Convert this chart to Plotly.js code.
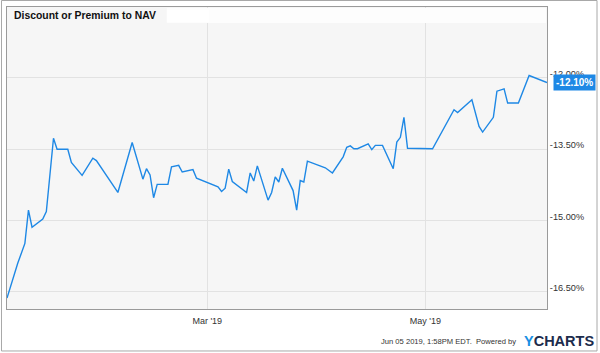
<!DOCTYPE html>
<html>
<head>
<meta charset="utf-8">
<script src="https://cdn.plot.ly/plotly-3.0.1.min.js"></script>
<style>html,body{margin:0;padding:0;background:#fff;}#chart{width:600px;height:353px;}</style>
</head>
<body>
<div id="chart"></div>
<script>
const dates = [
 '2019-01-04','2019-01-07','2019-01-09','2019-01-10','2019-01-11','2019-01-14','2019-01-15','2019-01-17','2019-01-18','2019-01-21',
 '2019-01-22','2019-01-25','2019-01-28','2019-01-29','2019-02-04','2019-02-08','2019-02-11','2019-02-12','2019-02-13','2019-02-14',
 '2019-02-15','2019-02-18','2019-02-19','2019-02-21','2019-02-22','2019-02-25','2019-02-26','2019-03-04','2019-03-05','2019-03-06',
 '2019-03-07','2019-03-08','2019-03-12','2019-03-13','2019-03-14','2019-03-15','2019-03-18','2019-03-19','2019-03-20','2019-03-21',
 '2019-03-22','2019-03-25','2019-03-26','2019-03-27','2019-03-28','2019-03-29','2019-04-03','2019-04-05','2019-04-08','2019-04-09',
 '2019-04-10','2019-04-11','2019-04-12','2019-04-15','2019-04-16','2019-04-17','2019-04-19','2019-04-22','2019-04-23','2019-04-24',
 '2019-04-25','2019-04-26','2019-05-03','2019-05-09','2019-05-10','2019-05-14','2019-05-16','2019-05-17','2019-05-20','2019-05-21',
 '2019-05-23','2019-05-24','2019-05-27','2019-05-30','2019-06-04'
];
const discountPct = [
 -16.63,-15.90,-15.48,-14.78,-15.14,-14.97,-14.81,-13.27,-13.50,-13.50,
 -13.78,-14.05,-13.69,-13.74,-14.41,-13.36,-14.13,-13.91,-14.04,-14.52,
 -14.24,-14.24,-13.87,-13.84,-13.98,-13.93,-14.11,-14.29,-14.39,-14.32,
 -13.92,-14.18,-14.41,-14.00,-14.17,-13.85,-14.57,-14.41,-14.08,-14.19,
 -13.90,-14.37,-14.78,-14.16,-14.19,-13.75,-13.89,-14.00,-13.66,-13.46,
 -13.43,-13.49,-13.49,-13.39,-13.51,-13.42,-13.42,-13.91,-13.35,-13.25,
 -12.83,-13.48,-13.49,-12.67,-12.73,-12.46,-13.02,-13.14,-12.83,-12.28,
 -12.23,-12.53,-12.53,-11.95,-12.10
];
const yTickVals = [-16.5, -15.0, -13.5, -12.0];
const yTickText = ['-16.50%', '-15.00%', '-13.50%', '-12.00%'];
const xTickVals = ['2019-03-01', '2019-05-01'];
const xTickText = ["Mar '19", "May '19"];
const seriesName = 'Discount or Premium to NAV';
const footerText = 'Jun 05 2019, 1:58PM EDT.\u00a0 Powered by';

const blue = '#1e88e5';
const lastX = dates[dates.length - 1];
const lastY = discountPct[discountPct.length - 1];

const trace = {
  x: dates, y: discountPct, type: 'scatter', mode: 'lines',
  line: {color: blue, width: 1.4}, name: seriesName, hoverinfo: 'skip'
};

const layout = {
  width: 600, height: 353,
  margin: {l: 7, r: 53, t: 7, b: 44},
  paper_bgcolor: '#ffffff', plot_bgcolor: '#f6f6f6',
  showlegend: false,
  font: {family: 'Arial, "Liberation Sans", sans-serif', color: '#333', size: 9},
  xaxis: {
    type: 'date', range: [dates[0], lastX],
    tickvals: xTickVals, ticktext: xTickText,
    showgrid: true, gridcolor: '#e2e2e2', gridwidth: 1,
    zeroline: false, showline: true, linecolor: '#9a9a9a', linewidth: 1, mirror: true,
    ticks: '', tickfont: {size: 9, color: '#333'}, ticklabelstandoff: 3
  },
  yaxis: {
    side: 'right', range: [-16.86, -10.51],
    tickvals: yTickVals, ticktext: yTickText,
    showgrid: true, gridcolor: '#e2e2e2', gridwidth: 1,
    zeroline: false, showline: true, linecolor: '#9a9a9a', linewidth: 1, mirror: true,
    ticks: '', tickfont: {size: 9.2, color: '#333'}, ticklabelposition: 'outside', ticklabelshift: -4
  },
  shapes: [
    {type: 'rect', xref: 'paper', yref: 'paper', x0: 0.296, x1: 0.998, y0: 0.947, y1: 0.997,
     fillcolor: '#fdfdfd', line: {width: 0}, layer: 'above'},
    {type: 'rect', xref: 'paper', yref: 'paper', x0: 0.296, x1: 0.374, y0: 0.950, y1: 0.990,
     fillcolor: '#ffffff', line: {width: 0}, layer: 'above'},
    {type: 'rect', xref: 'paper', yref: 'paper', x0: -0.0102, x1: 1.0926, y0: -0.139, y1: 1.0215,
     fillcolor: 'rgba(0,0,0,0)', line: {width: 1, color: '#a8a8a8'}, layer: 'above'},
    {type: 'path', xref: 'x', yref: 'y', xsizemode: 'pixel', ysizemode: 'pixel',
     xanchor: lastX, yanchor: lastY, path: 'M 0 0 L 7 7 L 7 -7 Z',
     fillcolor: blue, line: {width: 0}, layer: 'above'}
  ],
  annotations: [
    {xref: 'paper', yref: 'paper', x: 0.0093, y: 0.972, xanchor: 'left', yanchor: 'middle',
     text: '<b>' + seriesName + '</b>', showarrow: false,
     font: {size: 10.4, color: '#111', family: 'Arial, "Liberation Sans", sans-serif'}},
    {xref: 'x', yref: 'y', x: lastX, y: lastY, xanchor: 'left', yanchor: 'middle', xshift: 6,
     text: '<b>' + lastY.toFixed(2) + '%</b>', showarrow: false, bgcolor: blue, borderpad: 2,
     font: {size: 10, color: '#ffffff', family: 'Arial, "Liberation Sans", sans-serif'}},
    {xref: 'paper', yref: 'paper', x: 0.946, y: -0.109, xanchor: 'right', yanchor: 'middle',
     text: footerText, showarrow: false,
     font: {size: 7.6, color: '#333', family: 'Arial, "Liberation Sans", sans-serif'}},
    {xref: 'paper', yref: 'paper', x: 0.9537, y: -0.106, xanchor: 'left', yanchor: 'middle',
     text: '<b><span style="color:#1a8fe3">Y</span><span style="color:#1c2c4c">CHARTS</span></b>',
     showarrow: false, font: {size: 14.5, family: 'Arial, "Liberation Sans", sans-serif'}}
  ]
};

Plotly.newPlot('chart', [trace], layout, {staticPlot: true, displayModeBar: false});
</script>
</body>
</html>
